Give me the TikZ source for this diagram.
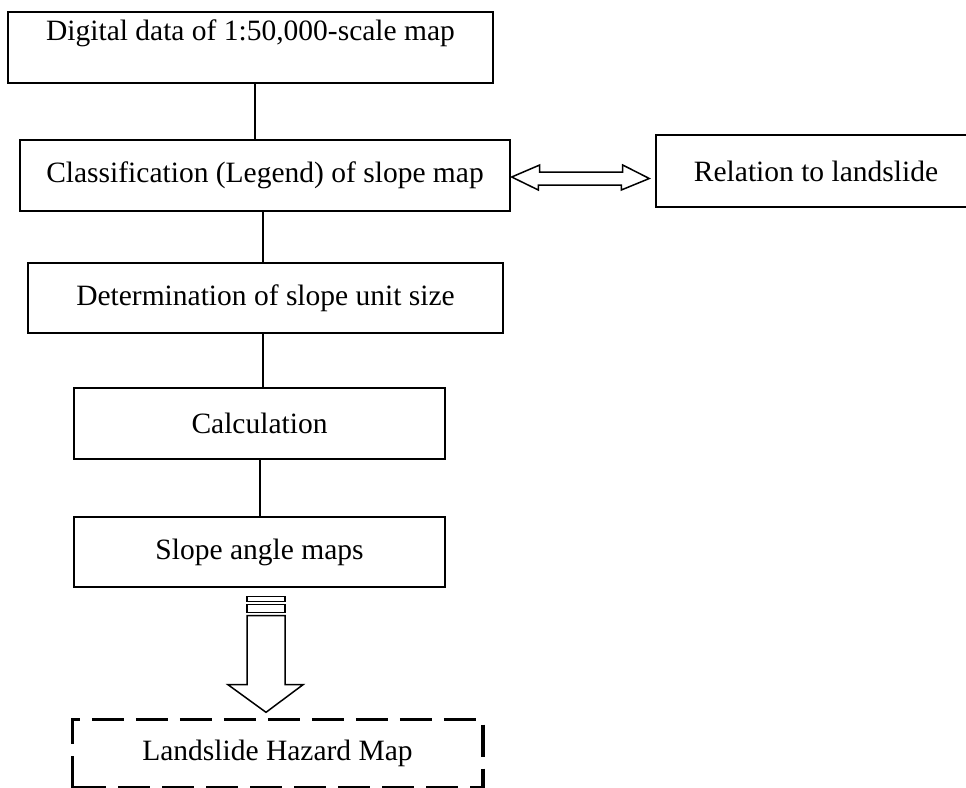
\documentclass[tikz,border=0pt]{standalone}
\usepackage{fontspec}
\setmainfont{Liberation Serif}
\usetikzlibrary{calc}

\begin{document}
\begin{tikzpicture}[x=1pt,y=-1pt,line join=miter]
        %
        % `box' is used for the plain steps of the flow.
        % `hollow' is used for the white block arrows.
        % `hazardline' is used for the dashed outline of the result.
        \tikzstyle{box} = [draw,line width=1.4pt,inner sep=0pt,minimum height=71pt,
                font=\fontsize{29.5}{35}\selectfont]
        \tikzstyle{hollow} = [draw,fill=white,line width=1.5pt]
        \tikzstyle{link} = [line width=1.4pt]
        \tikzstyle{hazardline} = [line width=3.6pt,dash pattern=on 32pt off 12pt]
        \useasboundingbox (0,0) rectangle (966,787);
        %
        % Steps
        \node[box,minimum width=485pt,text height=28pt,text depth=43pt] (digital) at (250.5,47.5) {Digital data of 1:50,000-scale map};
        \node[box,minimum width=490pt] (classif) at (265,175.5) {Classification (Legend) of slope map};
        \node[box,minimum width=475pt,minimum height=70pt] (unitsize) at (265.5,298) {Determination of slope unit size};
        \node[box,minimum width=371pt] (calc) at (259.5,423.5) {Calculation};
        \node[box,minimum width=371pt,minimum height=70pt] (slope) at (259.5,552) {Slope angle maps};
        %
        % Side box
        \node[box,minimum width=320pt,minimum height=72pt] (relation) at (816,171) {Relation to landslide};
        %
        % Result
        \node[box,draw=none,minimum width=409pt,minimum height=67pt] (hazard) at (277.5,753.5) {Landslide Hazard Map};
        \draw[hazardline] (hazard.south west) -- (hazard.north west) -- (hazard.north east)
                -- (hazard.south east) -- cycle;
        %
        % Vertical links
        \coordinate (s1) at (255,0);
        \coordinate (s2) at (263,0);
        \coordinate (s3) at (260,0);
        \draw[link] (digital.south -| s1) -- (classif.north -| s1);
        \draw[link] (classif.south -| s2) -- (unitsize.north -| s2);
        \draw[link] (unitsize.south -| s2) -- (calc.north -| s2);
        \draw[link] (calc.south -| s3) -- (slope.north -| s3);
        %
        % Double arrow
        \draw[hollow] ($(classif.east)+(1,1.5)$) -- ++(28,-12) -- ++(0,7) -- ++(83,0)
                -- ++(0,-7) -- ($(relation.west)+(-6,7.5)$) -- ++(-28,11.5) -- ++(0,-5)
                -- ++(-83,0) -- ++(0,5) -- cycle;
        %
        % Striped block arrow
        \coordinate (arrtop) at ($(slope.south)+(6.5,9)$);
        \draw[hollow] ($(arrtop)+(-19,0)$) rectangle ++(38,5);
        \draw[hollow] ($(arrtop)+(-19,8)$) rectangle ++(38,8);
        \draw[hollow] ($(arrtop)+(-19,19)$) -- ++(0,69) -- ++(-19,0) -- ($(hazard.north)+(-11.5,-7)$)
                -- ($(arrtop)+(37,88)$) -- ++(-18,0) -- ++(0,-69) -- cycle;
        %
\end{tikzpicture}
\end{document}
